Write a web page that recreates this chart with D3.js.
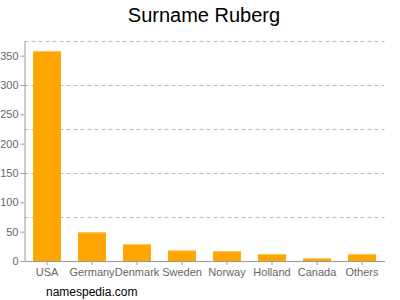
<!DOCTYPE html>
<html>
<head>
<meta charset="utf-8">
<script src="https://cdn.jsdelivr.net/npm/d3@7"></script>
<style>
body { margin: 0; background: #fff; }
svg { font-family: "Liberation Sans", Arial, sans-serif; }
.grid line { stroke: #bbb; stroke-dasharray: 4,3; }
.grid path { display: none; }
.axis path, .axis line { stroke: #999; }
.axis text { fill: #666; font-size: 11px; }
</style>
</head>
<body>
<svg width="400" height="300"></svg>
<script>
const countries = ['USA', 'Germany', 'Denmark', 'Sweden', 'Norway', 'Holland', 'Canada', 'Others'];
const counts = [358, 49, 29, 18, 17, 12, 5, 12];
const yTicks = [0, 50, 100, 150, 200, 250, 300, 350];
const gridTicks = [75, 150, 225, 300, 375];

const data = countries.map((c, i) => ({name: c, value: counts[i]}));

const svg = d3.select('svg');
const plotLeft = 24.5, plotRight = 384.5, plotTop = 41, plotBottom = 261;

const xScale = d3.scaleBand()
    .range([plotLeft, plotRight])
    .domain(countries)
    .paddingInner(0.38)
    .paddingOuter(0.19);

const yScale = d3.scaleLinear()
    .range([plotBottom, plotTop])
    .domain([0, 375]);

// grid
svg.append('g')
    .attr('class', 'grid')
    .attr('transform', `translate(${plotLeft}, 0)`)
    .call(d3.axisLeft(yScale)
        .tickValues(gridTicks)
        .tickSize(-(plotRight - plotLeft))
        .tickFormat(''));

// bars
const bars = svg.append('g').selectAll('g')
    .data(data)
    .enter()
    .append('g');

bars.append('rect')
    .attr('x', (d) => xScale(d.name))
    .attr('y', (d) => yScale(d.value))
    .attr('width', xScale.bandwidth())
    .attr('height', (d) => plotBottom - yScale(d.value))
    .attr('fill', '#ffa500');

// lighter top edge
bars.append('rect')
    .attr('x', (d) => xScale(d.name))
    .attr('y', (d) => yScale(d.value))
    .attr('width', xScale.bandwidth())
    .attr('height', 1)
    .attr('fill', '#ffc866');

// y axis
svg.append('g')
    .attr('class', 'axis')
    .attr('transform', `translate(${plotLeft}, 0)`)
    .call(d3.axisLeft(yScale).tickValues(yTicks).tickSize(4).tickSizeOuter(0).tickPadding(2));

// x axis
svg.append('g')
    .attr('class', 'axis')
    .attr('transform', `translate(0, ${plotBottom})`)
    .call(d3.axisBottom(xScale).tickSize(4).tickSizeOuter(0).tickPadding(3));

// title
svg.append('text')
    .attr('x', 204)
    .attr('y', 22)
    .attr('text-anchor', 'middle')
    .attr('font-size', '20px')
    .attr('fill', '#000')
    .text('Surname Ruberg');

// footer
svg.append('text')
    .attr('x', 46)
    .attr('y', 296)
    .attr('font-size', '12px')
    .attr('fill', '#000')
    .text('namespedia.com');
</script>
</body>
</html>
